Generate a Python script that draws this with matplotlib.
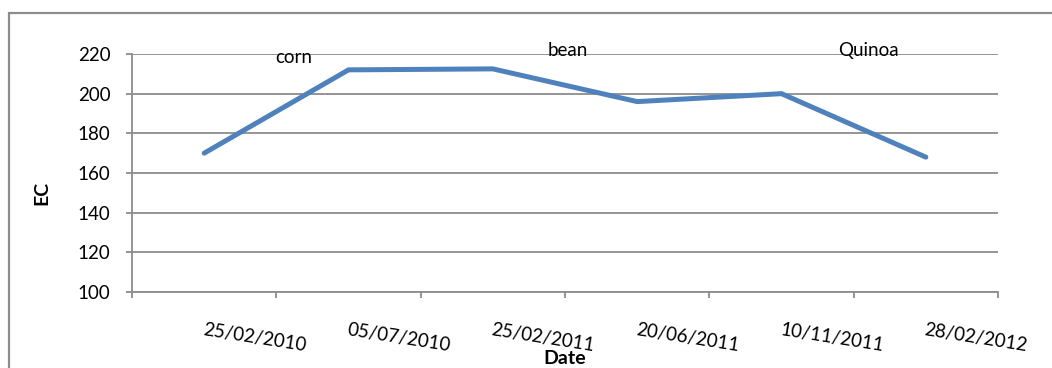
import matplotlib
matplotlib.use("Agg")
import matplotlib.pyplot as plt
from matplotlib.patches import Rectangle

dates = ["25/02/2010", "05/07/2010", "25/02/2011", "20/06/2011", "10/11/2011", "28/02/2012"]
ec = [170, 212, 212.5, 196, 200, 168]
crop_labels = ["corn", "bean", "Quinoa"]
crop_x = [0.62, 2.52, 4.6]
crop_y = [218, 222, 222]
yticks = [100, 120, 140, 160, 180, 200, 220]

plt.rcParams['font.family'] = ['Lato', 'DejaVu Sans']
W, H = 1052, 368
fig = plt.figure(figsize=(W/100, H/100), dpi=100)
ax = fig.add_axes([132/W, 1-292/H, (998-132)/W, (292-54)/H])

gray = '#8c8c8c'
fig.patches.append(Rectangle((9/W, -0.1), 1.2, 1 - 13/H + 0.1, transform=fig.transFigure,
                             fill=False, edgecolor=gray, linewidth=1.6))

x = list(range(len(dates)))
ax.plot(x, ec, color='#4F81BD', linewidth=3.6, solid_capstyle='round', solid_joinstyle='miter', zorder=3)

ax.set_xlim(-0.5, len(dates) - 0.5)
ax.set_ylim(100, 220)
ax.set_yticks(yticks)
ax.set_yticklabels([str(v) for v in yticks], fontsize=13.5)
ax.yaxis.grid(True, color=gray, linewidth=1.3)
ax.set_axisbelow(True)

ax.set_xticks(x)
ax.set_xticklabels(dates, fontsize=13.5, rotation=-9, ha='left', va='top', rotation_mode='anchor')
ax.set_xticks([i - 0.5 for i in range(len(dates) + 1)], minor=True)
ax.tick_params(axis='x', which='major', length=0, pad=21)
ax.tick_params(axis='x', which='minor', length=4.5, width=1.3, color=gray, direction='out')
ax.tick_params(axis='y', length=4.5, width=1.3, color=gray, pad=11)

for s in ['top', 'right']:
    ax.spines[s].set_visible(False)
for s in ['left', 'bottom']:
    ax.spines[s].set_color(gray)
    ax.spines[s].set_linewidth(1.3)

for lbl, cx, cy in zip(crop_labels, crop_x, crop_y):
    ax.text(cx, cy, lbl, ha='center', va='center', fontsize=13.5, color='black', zorder=4)

fig.text(42/W, 1-193/H, "EC", rotation=90, ha='center', va='center', fontsize=14, fontweight='bold')
fig.text(565/W, 1-359/H, "Date", ha='center', va='center', fontsize=14, fontweight='bold')

fig.savefig("out.png", dpi=100)
